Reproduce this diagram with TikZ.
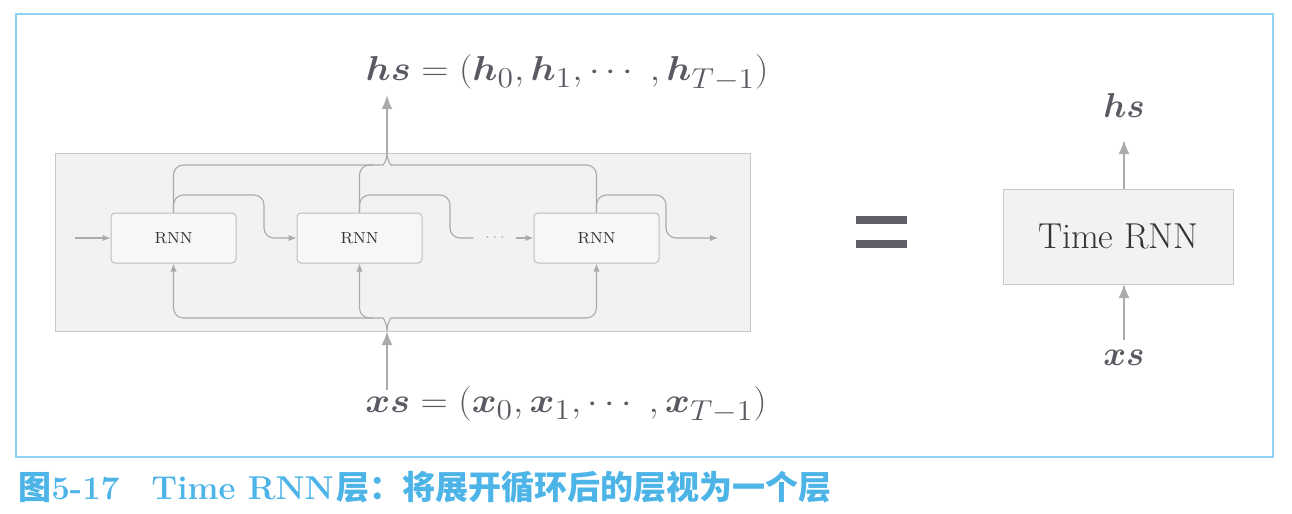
\documentclass[tikz,border=0pt]{standalone}
\usepackage{fontspec}
\usepackage{bm}
\usepackage{graphicx}
\usetikzlibrary{arrows.meta}
\newfontfamily\cjk{Noto Sans CJK SC}
\DeclareMathSizes{18}{18}{14}{11}
\definecolor{framebl}{HTML}{8CD2F1}
\definecolor{capbl}{HTML}{4DB4E8}
\definecolor{lng}{HTML}{ABABAB}
\definecolor{panelfill}{HTML}{F2F2F2}
\definecolor{panelline}{HTML}{C8C8C8}
\definecolor{boxfill}{HTML}{F7F7F7}
\definecolor{boxline}{HTML}{BDBDBD}
\definecolor{mathcol}{HTML}{5A5A63}
\definecolor{eqcol}{HTML}{5F5F67}
\definecolor{txt}{HTML}{333333}
\tikzset{
  ln/.style={draw=lng, line width=0.55pt, rounded corners=5},
  arr/.style={ln, -{Latex[length=4pt,width=3.2pt]}},
  bigarr/.style={draw=lng, line width=1.2pt, -{Latex[length=7pt,width=5.5pt]}},
  rnnbox/.style={draw=boxline, fill=boxfill, line width=0.5pt, rounded corners=2pt,
    minimum width=62.5pt, minimum height=25pt, inner sep=0pt,
    font=\fontsize{8}{9}\selectfont, text=txt},
  tbox/.style={draw=panelline, fill=panelfill, line width=0.5pt,
    minimum width=115pt, minimum height=47.5pt, inner sep=0pt,
    font=\fontsize{18}{20}\selectfont, text=txt},
  mathlbl/.style={text=mathcol, font=\fontsize{18}{20}\selectfont, inner sep=0pt},
}
\begin{document}
\begin{tikzpicture}[x=0.5pt,y=-0.5pt]
\useasboundingbox (0,0) rectangle (1292,514);
% outer frame
\draw[framebl, line width=1pt] (16,14) rectangle (1273,457);
% panel
\draw[panelline, fill=panelfill, line width=0.5pt] (55,153) rectangle (750,331);
% RNN boxes
\node[rnnbox] (r1) at (173.5,238) {RNN};
\node[rnnbox] (r2) at (359.5,238) {RNN};
\node[rnnbox] (r3) at (596.5,238) {RNN};
\node[inner xsep=5.5pt, inner ysep=0pt, text=lng, font=\fontsize{8}{9}\selectfont] (dots) at (495,238) {$\cdots$};
% junctions
\coordinate (jt) at (387,153);
\coordinate (jb) at (387,331);
\coordinate (hstip) at (387,95);
\coordinate (xsstart) at (387,390);
\coordinate (in0) at (75,238);
\coordinate (out0) at (718,238);
% top merging lines
\draw[ln] (r1.north) |- (373,165) .. controls (383,165) and (387,161) .. (jt);
\draw[ln] (r2.north) |- (373,165);
\draw[ln] (r3.north) |- (401,165) .. controls (391,165) and (387,161) .. (jt);
% recurrent connections
\draw[arr] (in0) -- (r1.west);
\draw[arr] (r1.north) |- (264,195) |- (r2.west);
\draw[ln] (r2.north) |- (450,195) |- (dots.west);
\draw[arr] (dots.east) -- (r3.west);
\draw[arr] (r3.north) |- (666,195) |- (out0);
% bottom distribution
\draw[arr] (jb) .. controls (387,323) and (383,318) .. (373,318) -| (r1.south);
\draw[arr] (373,318) -| (r2.south);
\draw[arr] (jb) .. controls (387,323) and (391,318) .. (401,318) -| (r3.south);
% big arrows
\draw[bigarr] (jt) -- (hstip);
\draw[bigarr] (xsstart) -- (jb);
% formulas
\node[mathlbl] (hs) at (567,73) {\scalebox{1.093}[1]{$\bm{hs} = (\bm{h}_0, \bm{h}_1, \cdots\;,\bm{h}_{T-1})$}};
\node[mathlbl] (xs) at (566,405) {\scalebox{1.093}[1]{$\bm{xs} = (\bm{x}_0, \bm{x}_1, \cdots\;,\bm{x}_{T-1})$}};
% equals sign
\fill[eqcol] (856,216) rectangle (907,224);
\fill[eqcol] (856,240) rectangle (907,248);
% Time RNN
\node[tbox] (trnn) at (1118.5,236.5) {Time RNN};
\coordinate (ta1) at (1124,189);
\coordinate (ta2) at (1124,140);
\coordinate (tb1) at (1124,340);
\coordinate (tb2) at (1124,284);
\draw[bigarr, line width=0.9pt] (ta1) -- (ta2);
\draw[bigarr, line width=0.9pt] (tb1) -- (tb2);
\node[mathlbl] (hs2) at (1124,105) {$\bm{hs}$};
\node[mathlbl] (xs2) at (1124,358) {$\bm{xs}$};
% caption
\node[anchor=west, text=capbl, inner sep=0pt, font=\fontsize{16.5}{18}\selectfont\bfseries] (cap) at (18,487)
  {{\cjk\bfseries 图}5-17\hspace{16pt}Time RNN\hspace{1.5pt}{\cjk\bfseries 层：将展开循环后的层视为一个层}};
\end{tikzpicture}
\end{document}
